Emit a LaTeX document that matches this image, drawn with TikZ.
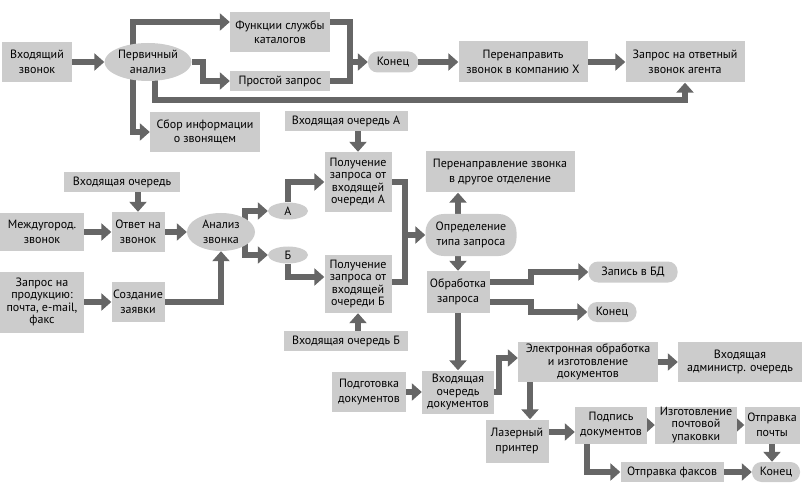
\documentclass[tikz,border=0pt]{standalone}
\usepackage{fontspec}
\setmainfont{PT Sans}
\usetikzlibrary{arrows.meta,calc,shapes.geometric}
\definecolor{BoxClr}{RGB}{204,204,204}
\definecolor{ArrowClr}{RGB}{102,102,102}
\pgfdeclarelayer{background}
\pgfsetlayers{background,main}

\begin{document}
\begin{tikzpicture}[x=1pt,y=-1pt,
  box/.style 2 args={fill=BoxClr,inner sep=0pt,align=center,minimum width=#1pt,minimum height=#2pt,font=\fontsize{12}{14.5}\selectfont},
  oval/.style 2 args={box={#1}{#2},ellipse},
  pill/.style 2 args={box={#1}{#2},rounded corners=9.5pt},
  tight/.style={font=\fontsize{12}{12.3}\selectfont},
  arr/.style={draw=ArrowClr,line width=6pt,-{Triangle[length=10pt,width=17pt]}},
  arrs/.style={draw=ArrowClr,line width=5pt,-{Triangle[length=8pt,width=14pt]}},
  ln/.style={draw=ArrowClr,line width=6pt}]
\useasboundingbox (0,0) rectangle (805,486);

\node[box={70}{40}] (vhod) at (37,62) {Входящий\\звонок};
\node[oval={87}{38}] (perv) at (148,62) {Первичный\\анализ};
\node[box={100}{40}] (func) at (280,32) {Функции службы\\каталогов};
\node[box={100}{20}] (prost) at (280,81) {Простой запрос};
\node[pill={50}{21}] (kon1) at (393,62) {Конец};
\node[box={129}{41}] (pere) at (523,62) {Перенаправить\\звонок в компанию X};
\node[box={119}{41}] (zapr) at (685,62) {Запрос на ответный\\звонок агента};
\node[box={110}{40}] (sbor) at (205,132) {Сбор информации\\о звонящем};

\node[box={123}{20}] (vqa) at (346,121) {Входящая очередь А};
\node[box={67}{60},tight] (pola) at (358,182) {Получение\\запроса от\\входящей\\очереди А};
\node[box={116}{20}] (vq) at (122,182) {Входящая очередь};
\node[box={84}{38}] (mezh) at (42,232) {Междугород.\\звонок};
\node[box={53}{40}] (otv) at (138,232) {Ответ на\\звонок};
\node[oval={68}{38}] (anal) at (221,232) {Анализ\\звонка};
\node[oval={40}{17}] (a) at (288,211) {А};
\node[oval={40}{17}] (b) at (288,255) {Б};
\node[box={67}{58},tight] (polb) at (358,284) {Получение\\запроса от\\входящей\\очереди Б};
\node[box={84}{61},tight] (zprod) at (42,302) {Запрос на\\продукцию:\\почта, e-mail,\\факс};
\node[box={53}{40}] (sozd) at (138,302) {Создание\\заявки};
\node[box={124}{20}] (vqb) at (346,341) {Входящая очередь Б};

\node[box={149}{41}] (pnpr) at (500,172) {Перенаправление звонка\\в другое отделение};
\node[pill={91}{42},rounded corners=18pt] (opr) at (471,235) {Определение\\типа запроса};
\node[box={63}{42}] (obr) at (458,292) {Обработка\\запроса};
\node[pill={89}{21}] (zap) at (633,272) {Запись в БД};
\node[pill={49}{20}] (kon2) at (612,312) {Конец};

\node[box={74}{40}] (podg) at (369,392) {Подготовка\\документов};
\node[box={72}{43},tight] (vqd) at (458,392) {Входящая\\очередь\\документов};
\node[box={140}{40},tight] (elek) at (588,362) {Электронная обработка\\и изготовление\\документов};
\node[box={124}{40},tight] (adm) at (740,362) {Входящая\\администр. очередь};
\node[box={63}{43}] (laz) at (517,441) {Лазерный\\принтер};
\node[box={72}{37}] (podp) at (611,425) {Подпись\\документов};
\node[box={82}{37},tight] (izg) at (696,425) {Изготовление\\почтовой\\упаковки};
\node[box={55}{37}] (otpp) at (772,425) {Отправка\\почты};
\node[box={103}{20}] (faks) at (672,472) {Отправка факсов};
\node[pill={48}{20}] (kon3) at (776,472) {Конец};

\begin{pgfonlayer}{background}
\coordinate (j1) at (350,62);
\coordinate (j2) at (405,235);
\draw[arr] (vhod) -- (perv);
\draw[arr] ([xshift=-15pt]perv.center) |- ([yshift=10pt]func.west);
\draw[arr] ([xshift=-15pt]perv.center) |- (sbor.west);
\draw[arr] (perv.east) -- ++(11,0) |- (prost.west);
\draw[arr] ([xshift=7pt]perv.center) -- ++(0,38) -| (zapr.south);
\draw[ln] ([yshift=10pt]func.east) -| (j1) |- (prost.east);
\draw[arr] (j1) -- (kon1);
\draw[arr] (kon1) -- (pere);
\draw[arr] (pere) -- (zapr);

\draw[arr] (vq.south -| otv) -- (otv);
\draw[arr] (mezh) -- (otv);
\draw[arr] (otv) -- (anal);
\draw[arr] (zprod) -- (sozd);
\draw[arr] (sozd) -| (anal);
\draw[arr] ([xshift=24pt]anal.center) |- (a);
\draw[arr] ([xshift=24pt]anal.center) |- (b);
\draw[arr] (a) |- (pola);
\draw[arr] (b) |- ([yshift=7pt]polb.west);
\draw[arr] (vqa.south -| pola) -- (pola);
\draw[arr] (vqb.north -| polb) -- (polb);
\draw[ln] (pola.east) -| (j2) |- ([yshift=2pt]polb.east);
\draw[arr] (j2) -- (opr);
\draw[arr] (opr.north -| obr) -- (pnpr.south -| obr);
\draw[arr] (opr.south -| obr) -- (obr);
\draw[arr] ([yshift=10pt]obr.east) -- ++(41,0) |- (zap);
\draw[arr] ([yshift=-10pt]obr.east) -- ++(41,0) |- (kon2);
\draw[arr] (obr) -- (vqd);

\draw[arr] (podg) -- (vqd);
\draw[arr] (vqd.east) -- ++(5,0) |- ([yshift=4pt]elek.west);
\draw[arr] (elek) -- (adm);
\draw[arr] ([xshift=-58pt]elek.south) -- ([xshift=-58pt]elek.south |- laz.north);
\draw[arr] ([yshift=9pt]laz.east) -- ([yshift=9pt]laz.east -| podp.west);
\draw[arrs] (podp) -- (izg);
\draw[arrs] (izg) -- (otpp);
\draw[arr] (otpp) -- (otpp |- kon3.north);
\draw[arr] ([xshift=-24pt]podp.center) |- (faks);
\draw[arr] (faks) -- (kon3);
\end{pgfonlayer}
\end{tikzpicture}
\end{document}
